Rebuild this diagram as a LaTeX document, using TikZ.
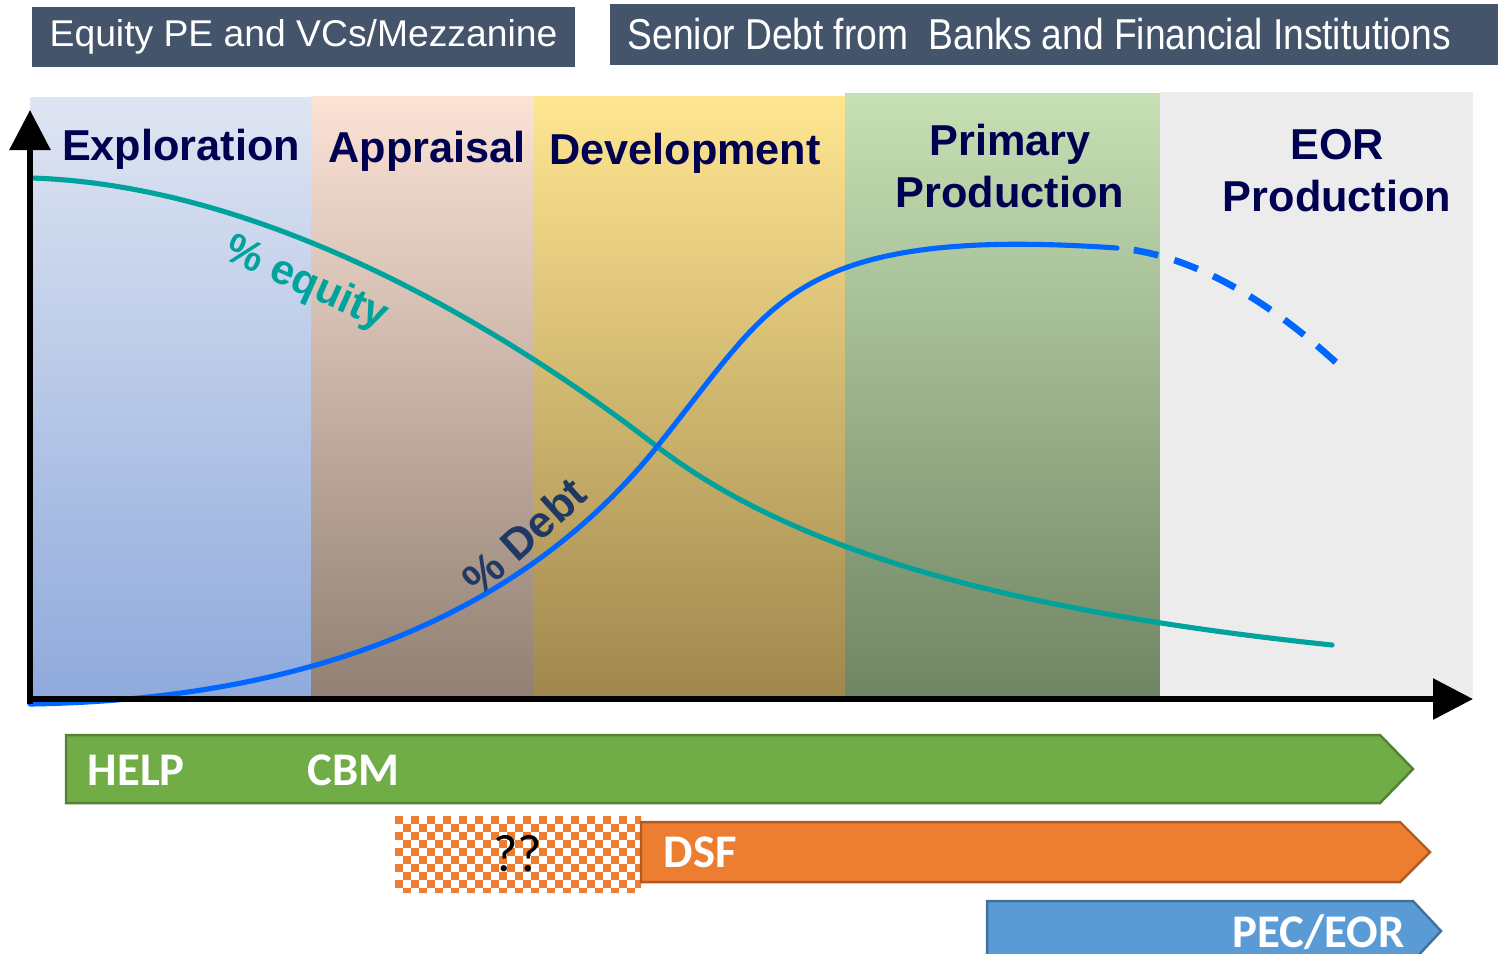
\documentclass[tikz,border=0pt]{standalone}
\usepackage{fontspec}
\setmainfont{Liberation Sans}
\newfontfamily\calibri{Carlito}
\usetikzlibrary{arrows.meta}

\definecolor{slate}{RGB}{68,84,106}
\definecolor{navy}{RGB}{0,0,80}
\definecolor{debtnavy}{RGB}{31,56,100}
\definecolor{eqteal}{RGB}{0,163,156}
\definecolor{debtblue}{RGB}{0,102,255}
\definecolor{grn}{RGB}{112,173,71}
\definecolor{grndark}{RGB}{84,130,53}
\definecolor{org}{RGB}{237,125,49}
\definecolor{orgdark}{RGB}{174,90,33}
\definecolor{pec}{RGB}{91,155,213}
\definecolor{pecdark}{RGB}{65,113,156}
\definecolor{explTop}{RGB}{223,229,242}
\definecolor{explBot}{RGB}{143,170,220}
\definecolor{apprTop}{RGB}{251,227,214}
\definecolor{apprBot}{RGB}{145,128,115}
\definecolor{devTop}{RGB}{255,230,145}
\definecolor{devBot}{RGB}{160,135,78}
\definecolor{primTop}{RGB}{198,224,180}
\definecolor{primBot}{RGB}{112,133,100}
\definecolor{eorGrey}{RGB}{236,236,236}

\begin{document}
\begin{tikzpicture}[x=0.01cm, y=-0.01cm,
  header/.style={fill=slate, text=white, inner ysep=0pt},
  phase/.style={font=\fontsize{12.3}{14.8}\selectfont\bfseries, text=navy, align=center},
  curve/.style={line width=1.45pt, line cap=round},
  axis/.style={line width=1.7pt, -{Triangle[length=4mm,width=4mm]}},
  bar/.style={line width=0.7pt, line join=miter},
  barlabel/.style={font=\calibri\fontsize{13.3}{16}\selectfont\bfseries, text=white, inner sep=0pt}
]
\useasboundingbox (0,0) rectangle (1498,953);

% funding sources
\node[header, minimum width=5.43cm, minimum height=0.6cm, font=\fontsize{10.6}{12}\selectfont]
  (equity) at (303.5,37) {Equity PE and VCs/Mezzanine};
\node[header, text width=8.52cm, inner xsep=0.18cm, minimum height=0.61cm, align=left]
  (senior) at (1054,34.5) {\scalebox{0.86}[1]{\fontsize{12.3}{14}\selectfont Senior Debt from\ \ Banks and Financial Institutions}};

% life-cycle phases
\shade[top color=explTop, bottom color=explBot] (30,97) rectangle (311,697);
\shade[top color=apprTop, bottom color=apprBot] (311,96) rectangle (533,697);
\shade[top color=devTop, bottom color=devBot] (533,96) rectangle (845,697);
\shade[top color=primTop, bottom color=primBot] (845,93) rectangle (1160,697);
\fill[eorGrey] (1160,92) rectangle (1473,697);

\node[phase, anchor=base] (explore) at (181,160) {Exploration};
\node[phase, anchor=base] (appraise) at (427,162) {Appraisal};
\node[phase, anchor=base] (develop) at (685,164) {Development};
\node[phase] (primary) at (1010,166) {Primary\\Production};
\node[phase] (eor) at (1337,171) {EOR\\Production};

% shares of equity and debt
\draw[curve, eqteal] (32,178) .. controls (250,185) and (480,310) .. (655,445)
  .. controls (790,549) and (1000,610) .. (1332,645);
\draw[curve, debtblue] (30,704) .. controls (300,700) and (520,620) .. (660,443)
  .. controls (730,355) and (760,305) .. (830,274)
  .. controls (900,243) and (1000,240) .. (1117,248);
\draw[curve, debtblue, line width=1.9pt, line cap=butt, dash pattern=on 7.1pt off 4.8pt, dash phase=7.1pt]
  (1117,248) .. controls (1200,255) and (1280,310) .. (1342,368);

\node[text=eqteal, font=\fontsize{12}{14}\selectfont\bfseries, rotate=-24] (eqlabel) at (306,284) {\% equity};
\node[text=debtnavy, font=\fontsize{12.5}{14}\selectfont\bfseries, rotate=42] (debtlabel) at (524,536) {\% Debt};

% axes
\coordinate (origin) at (30,699);
\coordinate (ytop) at (30,110);
\coordinate (xend) at (1473,699);
\draw[axis] (origin) ++(0,5) -- (ytop);
\draw[axis] (origin) ++(-3,0) -- (xend);

% support programmes
\draw[bar, fill=grn, draw=grndark] (66,735) -- (1380,735) -- (1413,769) -- (1380,803) -- (66,803) -- cycle;
\node[barlabel, anchor=base west] (help) at (87,785) {HELP};
\node[barlabel, anchor=base west] (cbm) at (307,785) {CBM};

\begin{scope}
  \clip (395,816) rectangle (641,892);
  \foreach \i in {0,...,30}
    \foreach \j in {0,...,9} {
      \pgfmathtruncatemacro\odd{mod(\i+\j,2)}
      \ifnum\odd=0 \fill[org] (395+8*\i,816+8*\j) rectangle ++(8,8); \fi
    }
\end{scope}
\node[font=\calibri\fontsize{15}{18}\selectfont] (unknown) at (518,854) {??};

\draw[bar, fill=org, draw=orgdark] (641,822) -- (1400,822) -- (1430,852) -- (1400,882) -- (641,882) -- cycle;
\node[barlabel, anchor=base west] (dsf) at (663,867) {DSF};

\draw[bar, fill=pec, draw=pecdark] (987,901) -- (1413,901) -- (1441,931) -- (1413,961) -- (987,961) -- cycle;
\node[barlabel, anchor=base east] (pecEor) at (1405,947) {PEC/EOR};
\end{tikzpicture}
\end{document}
